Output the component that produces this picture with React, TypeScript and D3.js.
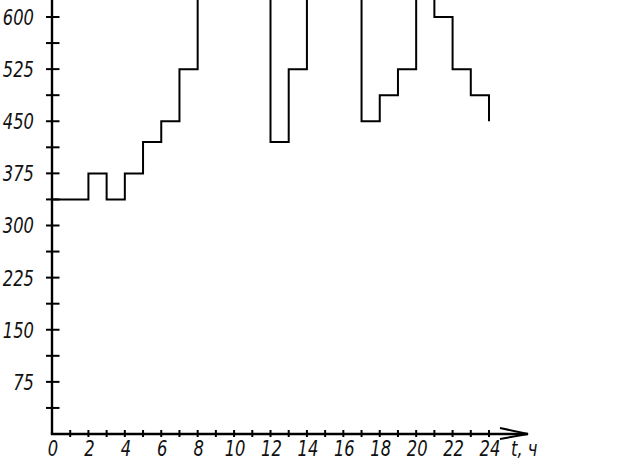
import React from "react";
import * as d3 from "d3";

const hours = [0, 1, 2, 3, 4, 5, 6, 7, 8, 9, 10, 11, 12, 13, 14, 15, 16, 17, 18, 19, 20, 21, 22, 23, 24];
const values = [337.5, 337.5, 375, 337.5, 375, 420, 450, 525, 675, 675, 675, 675, 420, 525, 675, 675, 675, 450, 487.5, 525, 675, 600, 525, 487.5, 450];
const yLabels = [75, 150, 225, 300, 375, 450, 525, 600];
const yMinor = [37.5, 75, 112.5, 150, 187.5, 225, 262.5, 300, 337.5, 375, 412.5, 450, 487.5, 525, 562.5, 600];
const xTicks = d3.range(1, 25);
const xLabels = [0, 2, 4, 6, 8, 10, 12, 14, 16, 18, 20, 22, 24];
const axisTitle = "t, ч";

export default function App() {
  const W = 619, H = 466;
  const x = d3.scaleLinear().domain([0, 24]).range([52, 489]);
  const y = d3.scaleLinear().domain([0, 600]).range([434, 17]);
  const data = hours.map((h, i) => ({ h, v: values[i] }));
  const line = d3.line<{ h: number; v: number }>()
    .x((d) => x(d.h))
    .y((d) => y(d.v))
    .curve(d3.curveStepAfter);
  const font = "'DejaVu Sans', sans-serif";
  const fs = 21.5;
  const sx = 0.76;
  const x0 = x(0), y0 = y(0);
  const T = (tx: number, ty: number, anchor: string, key: string, s: string | number) => (
    <text
      key={key}
      transform={`translate(${tx},${ty}) scale(${sx},1)`}
      textAnchor={anchor}
      fontFamily={font}
      fontStyle="italic"
      fontWeight={200}
      fontSize={fs}
      fill="#111"
    >
      {s}
    </text>
  );
  return (
    <svg width={W} height={H} style={{ position: "absolute", left: 0, top: 0, background: "#fff" }}>
      <rect width={W} height={H} fill="#fff" />
      <path d={line(data) || ""} fill="none" stroke="#000" strokeWidth={2} />
      <line x1={x0} y1={y0} x2={x0} y2={0} stroke="#000" strokeWidth={2.4} />
      <line x1={x0 - 1.2} y1={y0} x2={528} y2={y0} stroke="#000" strokeWidth={2.4} />
      <path d={`M500,428 L528,${y0} L500,439`} fill="none" stroke="#000" strokeWidth={2} />
      {yMinor.map((v) => (
        <line key={"ym" + v} x1={x0 - 6} x2={x0 + 7.5} y1={y(v)} y2={y(v)} stroke="#000" strokeWidth={2} />
      ))}
      {xTicks.map((h) => (
        <line key={"xt" + h} x1={x(h)} x2={x(h)} y1={y0 - 4} y2={y0 + 3} stroke="#000" strokeWidth={2} />
      ))}
      {yLabels.map((v) => T(34, y(v) + fs * 0.37, "end", "yl" + v, v))}
      {xLabels.map((h) => T(x(h) + 1, 456, "middle", "xl" + h, h))}
      {T(511, 456, "start", "title", axisTitle)}
    </svg>
  );
}
